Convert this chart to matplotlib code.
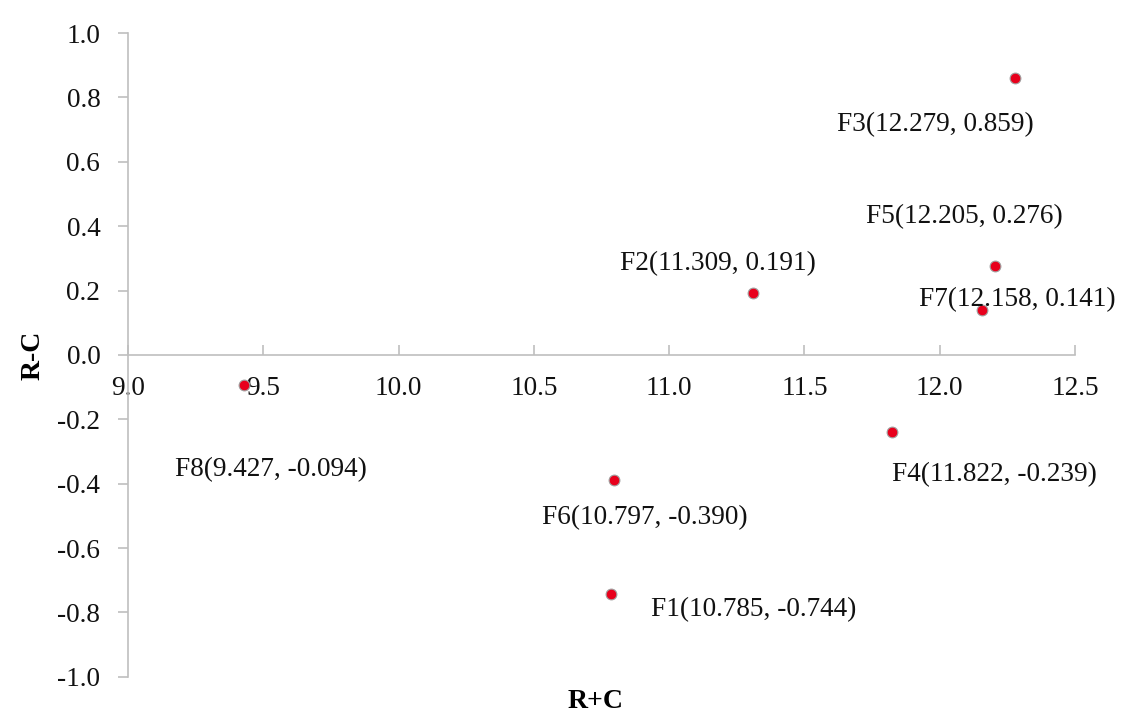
import matplotlib
matplotlib.use("Agg")
import matplotlib.pyplot as plt

names = ["F1", "F2", "F3", "F4", "F5", "F6", "F7", "F8"]
x_vals = [10.785, 11.309, 12.279, 11.822, 12.205, 10.797, 12.158, 9.427]
y_vals = [-0.744, 0.191, 0.859, -0.239, 0.276, -0.390, 0.141, -0.094]
# label offsets in pixels relative to each point (x right, y up)
offsets = {
    "F1": (143, -15), "F2": (-35, 30), "F3": (-80, -46), "F4": (103, -43),
    "F5": (-31, 50), "F6": (31, -37), "F7": (35, 10), "F8": (27, -84),
}

plt.rcParams['font.family'] = ['Liberation Serif', 'DejaVu Serif']

fig = plt.figure(figsize=(11.28, 7.2), dpi=100)
ax = fig.add_axes([0.1135, 0.06, 0.8395, 0.894])

ax.scatter(x_vals, y_vals, s=60, color='#E8001C', edgecolors='#A0A0A0', linewidths=0.8, zorder=3)

for n, xv, yv in zip(names, x_vals, y_vals):
    dx, dy = offsets[n]
    ax.annotate(f"{n}({xv:.3f}, {yv:.3f})", (xv, yv), xytext=(dx * 0.72, dy * 0.72),
                textcoords='offset points', ha='center', va='center', fontsize=19.6, color='#111111')

ax.set_xlim(9.0, 12.5)
ax.set_ylim(-1.0, 1.0)
ax.set_xticks([9.0, 9.5, 10.0, 10.5, 11.0, 11.5, 12.0, 12.5])
ax.set_yticks([-1.0, -0.8, -0.6, -0.4, -0.2, 0.0, 0.2, 0.4, 0.6, 0.8, 1.0])
ax.xaxis.set_major_formatter(matplotlib.ticker.FormatStrFormatter('%.1f'))
ax.yaxis.set_major_formatter(matplotlib.ticker.FormatStrFormatter('%.1f'))

ax.spines['top'].set_visible(False)
ax.spines['right'].set_visible(False)
ax.spines['bottom'].set_position(('data', 0))
for s in ['left', 'bottom']:
    ax.spines[s].set_color('#BFBFBF')
    ax.spines[s].set_linewidth(1.2)

ax.tick_params(axis='y', direction='out', length=7, color='#BFBFBF', width=1.2,
               labelsize=19.6, pad=13, labelcolor='#111111')
ax.tick_params(axis='x', direction='in', length=7, color='#BFBFBF', width=1.2,
               labelsize=19.6, pad=15, labelcolor='#111111')

fig.text(0.528, 0.026, "R+C", fontsize=20, fontweight='bold', ha='center', va='center')
fig.text(0.029, 0.507, "R-C", fontsize=20, fontweight='bold', ha='center', va='center', rotation=90)

fig.savefig("out.png", dpi=100)
